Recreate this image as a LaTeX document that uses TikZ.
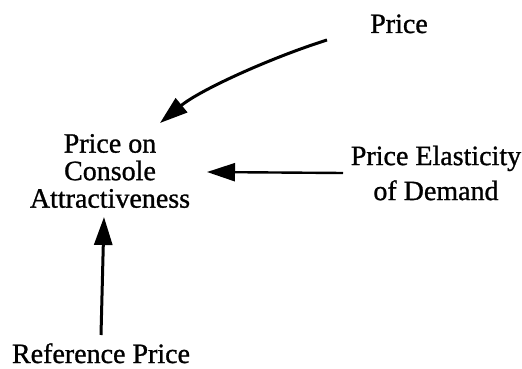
\documentclass[tikz,border=0pt]{standalone}
\usepackage{fontspec}
\setmainfont{Liberation Serif}[FakeBold=1]
\usetikzlibrary{arrows.meta}
\begin{document}
\begin{tikzpicture}[x=1pt,y=-1pt,
  lbl/.style={inner sep=0pt,align=center,font=\fontsize{28}{27.5}\selectfont},
  conn/.style={line width=3pt,-{Triangle[length=28pt,width=18pt]}}]
\useasboundingbox (0,0) rectangle (522,369);
\node[lbl,anchor=base] (price) at (399,33) {Price};
\node[lbl] (main) at (110,171) {Price on\\Console\\Attractiveness};
\node[lbl,font=\fontsize{28}{35}\selectfont] (elast) at (436,173) {Price Elasticity\\of Demand};
\node[lbl,anchor=base] (ref) at (101,363) {Reference Price};
\coordinate (p1) at (327,40);
\coordinate (p2) at (160,123);
\coordinate (e1) at (343,173);
\coordinate (e2) at (207,172);
\coordinate (r1) at (101,335);
\coordinate (r2) at (104,217);
\draw[conn] (p1) .. controls (270,58) and (200,90) .. (p2);
\draw[conn,line width=2.4pt] (e1) -- (e2);
\draw[conn] (r1) -- (r2);
\end{tikzpicture}
\end{document}
